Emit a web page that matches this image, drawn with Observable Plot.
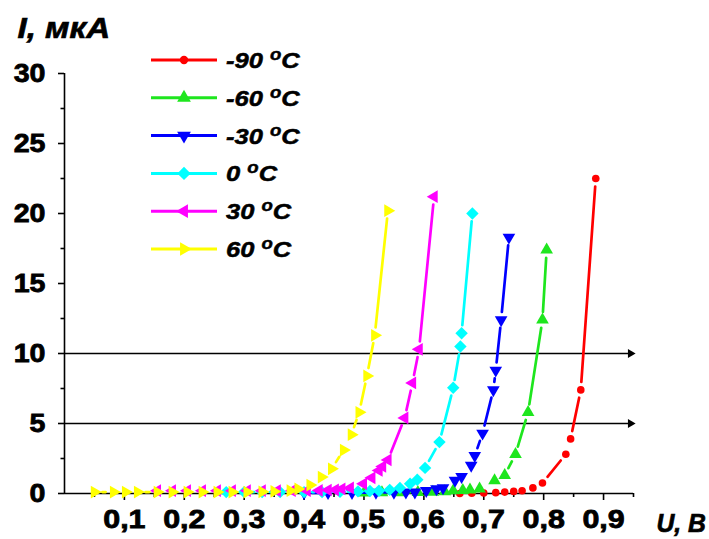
<!DOCTYPE html>
<html><head><meta charset="utf-8">
<script src="https://cdn.jsdelivr.net/npm/d3@7"></script>
<script src="https://cdn.jsdelivr.net/npm/@observablehq/plot@0.6"></script>
<style>
body{margin:0;background:#fff;}
#wrap{position:relative;width:709px;height:539px;overflow:hidden;}
#legend{position:absolute;left:0;top:0;}
</style></head><body><div id="wrap"></div>
<script>
// ---- data ----
const seriesNames = ["-90", "-60", "-30", "0", "30", "60"];
const seriesColors = ["#ff0000", "#1ee61e", "#0000ff", "#00ffff", "#ff00ff", "#ffff00"];
const seriesSymbols = ["circle", "triangle", "triangle", "diamond2", "triangle", "triangle"];
const seriesRotate = [0, 0, 180, 0, -90, 90];

const uM90 = [0.66, 0.68, 0.70, 0.72, 0.735, 0.75, 0.764, 0.782, 0.798, 0.837, 0.845, 0.862, 0.887];
const iM90 = [0.0, 0.02, 0.04, 0.06, 0.1, 0.15, 0.2, 0.4, 0.75, 2.8, 3.9, 7.4, 22.5];

const uM60 = [0.50, 0.53, 0.56, 0.59, 0.615, 0.635, 0.649, 0.665, 0.677, 0.693, 0.718, 0.735, 0.753, 0.774, 0.798, 0.805];
const iM60 = [0.05, 0.06, 0.07, 0.08, 0.1, 0.14, 0.2, 0.22, 0.26, 0.33, 0.93, 1.3, 2.8, 5.8, 12.4, 17.4];

const uM30 = [0.40, 0.44, 0.48, 0.52, 0.55, 0.57, 0.585, 0.604, 0.621, 0.632, 0.652, 0.663, 0.679, 0.685, 0.698, 0.716, 0.72, 0.729, 0.742];
const iM30 = [0.05, 0.05, 0.06, 0.07, 0.08, 0.09, 0.1, 0.2, 0.33, 0.4, 0.93, 1.2, 2.0, 2.7, 4.3, 7.4, 8.8, 12.4, 18.3];

const u0 = [0.27, 0.30, 0.33, 0.36, 0.40, 0.43, 0.46, 0.49, 0.51, 0.525, 0.543, 0.56, 0.577, 0.589, 0.602, 0.626, 0.649, 0.661, 0.663, 0.681];
const i0 = [0.1, 0.1, 0.1, 0.1, 0.1, 0.1, 0.12, 0.15, 0.18, 0.2, 0.26, 0.4, 0.69, 0.98, 1.83, 3.67, 7.55, 10.5, 11.45, 20.0];

const uP30 = [0.155, 0.18, 0.205, 0.23, 0.255, 0.28, 0.305, 0.33, 0.355, 0.38, 0.405, 0.425, 0.44, 0.452, 0.463, 0.477, 0.499, 0.513, 0.525, 0.531, 0.540, 0.568, 0.581, 0.592, 0.617];
const iP30 = [0.2, 0.2, 0.2, 0.2, 0.2, 0.2, 0.2, 0.2, 0.2, 0.2, 0.2, 0.22, 0.25, 0.26, 0.33, 0.4, 0.69, 1.12, 1.64, 1.93, 2.4, 5.4, 7.9, 10.3, 21.2];

const uP60 = [0.05, 0.082, 0.102, 0.122, 0.155, 0.18, 0.205, 0.23, 0.255, 0.28, 0.305, 0.33, 0.35, 0.377, 0.39, 0.41, 0.429, 0.446, 0.466, 0.479, 0.492, 0.505, 0.518, 0.540];
const iP60 = [0.1, 0.1, 0.1, 0.1, 0.1, 0.1, 0.1, 0.1, 0.1, 0.1, 0.1, 0.12, 0.15, 0.2, 0.33, 0.6, 1.17, 1.76, 3.1, 4.2, 5.8, 8.4, 11.3, 20.2];

const seriesU = [uM90, uM60, uM30, u0, uP30, uP60];
const seriesI = [iM90, iM60, iM30, i0, iP30, iP60];

const xTicks = [0.1, 0.2, 0.3, 0.4, 0.5, 0.6, 0.7, 0.8, 0.9];
const xMinor = [0.05, 0.15, 0.25, 0.35, 0.45, 0.55, 0.65, 0.75, 0.85, 0.95];
const yTicks = [0, 5, 10, 15, 20, 25, 30];
const yMinor = [2.5, 7.5, 12.5, 17.5, 22.5, 27.5];
const refLevels = [5, 10];
const xDomain = [0, 0.95];
const yDomain = [0, 30];

// ---- layout ----
const W = 709, H = 539;
const M = {left: 64, right: 76, top: 73, bottom: 46};
const inset = 8;
const fmt = d => String(d).replace(".", ",");

const xs = Plot.scale({x: {domain: xDomain, range: [M.left, W - M.right]}});
const ys = Plot.scale({y: {domain: yDomain, range: [H - M.bottom, M.top]}});

const series = seriesNames.map((name, k) => ({
  name, color: seriesColors[k], symbol: seriesSymbols[k], rotate: seriesRotate[k],
  pts: seriesU[k].map((u, j) => ({u, i: seriesI[k][j]}))
}));

const symR = s => s === "circle" ? 3.8 : s === "diamond2" ? 5.6 : 4.7;

const seriesMarks = series.flatMap(s => {
  const segs = d3.pairs(s.pts)
    .map(([a, b]) => ({x1: a.u, y1: a.i, x2: b.u, y2: b.i}))
    .filter(d => Math.hypot(xs.apply(d.x2) - xs.apply(d.x1), ys.apply(d.y2) - ys.apply(d.y1)) > 2 * inset + 1.5);
  return [
    Plot.arrow(segs, {x1: "x1", y1: "y1", x2: "x2", y2: "y2", stroke: s.color, strokeWidth: 2.7,
      headLength: 0, insetStart: inset, insetEnd: inset}),
    Plot.dot(s.pts, {x: "u", y: "i", symbol: s.symbol, rotate: s.rotate, r: symR(s.symbol), fill: s.color, stroke: "none"})
  ];
});

const tickText = new Set([...xTicks.map(fmt), ...yTicks.map(String)]);

const chart = Plot.plot({
  width: W, height: H,
  marginLeft: M.left, marginRight: M.right, marginTop: M.top, marginBottom: M.bottom,
  style: {fontFamily: "'Liberation Sans', Arial, sans-serif", background: "white", color: "black", overflow: "visible"},
  x: {domain: xDomain},
  y: {domain: yDomain},
  marks: [
    Plot.ruleY(refLevels, {x1: 0, x2: 0.944, stroke: "black", strokeWidth: 1.3}),
    Plot.dot(refLevels, {x: () => 0.95, y: d => d, symbol: "triangle", rotate: 90, r: 3.3, fill: "black", dx: -3}),
    Plot.ruleY([0], {stroke: "black", strokeWidth: 1.6}),
    Plot.ruleX([0], {stroke: "black", strokeWidth: 1.6}),
    Plot.axisY({ticks: yTicks, tickSize: 6, tickPadding: 13, tickFormat: d => String(d), fontSize: 26, fontWeight: "bold", strokeWidth: 1.6, label: null}),
    Plot.axisY({ticks: yMinor, tickSize: 3.5, tickFormat: () => "", strokeWidth: 1.6, label: null}),
    Plot.axisX({ticks: xTicks, tickSize: 7, tickPadding: 9, tickFormat: fmt, fontSize: 26, fontWeight: "bold", strokeWidth: 1.6, label: null}),
    Plot.axisX({ticks: xMinor, tickSize: 4, tickFormat: () => "", strokeWidth: 1.6, label: null}),
    ...seriesMarks,
    Plot.text(["I, мкА"], {text: d => d, frameAnchor: "top-left", dx: -47, dy: -45, textAnchor: "start", lineAnchor: "middle",
      fontSize: 30, fontWeight: "bold", fontStyle: "italic"}),
    Plot.text(["U, В"], {text: d => d, frameAnchor: "bottom-right", dx: 23, dy: 30, textAnchor: "start", lineAnchor: "middle",
      fontSize: 26, fontWeight: "bold", fontStyle: "italic"})
  ]
});
document.getElementById("wrap").appendChild(chart);

// tick labels: large bold lettering
chart.querySelectorAll("text").forEach(n => {
  if (tickText.has(n.textContent.trim())) {
    n.style.fontSize = "26px";
    n.style.fontWeight = "bold";
    n.dataset.tick = "1";
  }
});

// ---- legend ----
const symMap = {circle: d3.symbolCircle, triangle: d3.symbolTriangle, diamond2: d3.symbolDiamond2};
const leg = d3.select("#wrap").append("svg").attr("id", "legend").attr("width", W).attr("height", H)
  .style("font-family", "'Liberation Sans', Arial, sans-serif");
series.forEach((s, k) => {
  const y = 60 + k * 37.8;
  const g = leg.append("g");
  g.append("line").attr("x1", 151).attr("x2", 217).attr("y1", y).attr("y2", y)
    .attr("stroke", s.color).attr("stroke-width", 3);
  const r = symR(s.symbol) + 0.4;
  g.append("path").attr("d", d3.symbol(symMap[s.symbol], Math.PI * r * r)())
    .attr("transform", `translate(184,${y}) rotate(${s.rotate})`).attr("fill", s.color);
  const t = g.append("text").attr("x", 226).attr("y", y + 8)
    .attr("font-size", 22).attr("font-weight", "bold").attr("font-style", "italic");
  t.append("tspan").text(s.name + " ");
  t.append("tspan").attr("font-size", 16).attr("dy", -8).text("o");
  t.append("tspan").attr("dy", 8).text("C");
});

// horizontal stretch and heavier weight to match the reference's wide, heavy lettering
function stretch(nodes, k, sw) {
  nodes.forEach(n => {
    const L = n.getComputedTextLength();
    if (L > 0) { n.setAttribute("textLength", (L * k).toFixed(1)); n.setAttribute("lengthAdjust", "spacingAndGlyphs"); }
    n.style.stroke = "black";
    n.style.strokeWidth = sw + "px";
  });
}
const chartTexts = [...chart.querySelectorAll("text")];
stretch(chartTexts.filter(n => n.dataset.tick === "1" && n.textContent.includes(",")), 1.17, 0.8);
stretch(chartTexts.filter(n => n.dataset.tick === "1" && !n.textContent.includes(",")), 1.1, 0.8);
stretch(chartTexts.filter(n => n.textContent === "I, мкА"), 1.1, 0.7);
stretch(chartTexts.filter(n => n.textContent === "U, В"), 0.95, 0.7);
stretch([...document.querySelectorAll("#legend text")], 1.16, 0.5);
</script>
</body></html>
